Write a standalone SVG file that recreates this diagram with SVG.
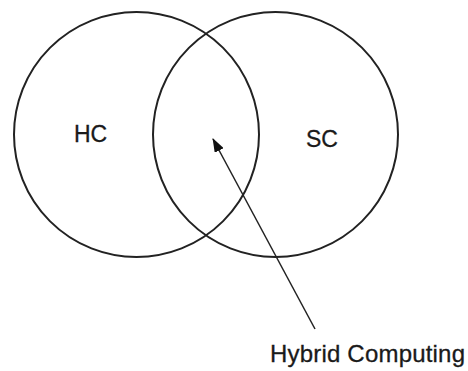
<svg xmlns="http://www.w3.org/2000/svg" width="468" height="371" viewBox="0 0 468 371">
<style>
.c{fill:none;stroke:#222;stroke-width:2}
.t{font-family:"Liberation Sans",Arial,sans-serif;fill:#1a1a1a;stroke:#1a1a1a;stroke-width:0.3}
</style>
<defs>
<marker id="ah" markerWidth="14" markerHeight="10" refX="13" refY="5" orient="auto" markerUnits="userSpaceOnUse">
<path d="M0,0 L14,5 L0,10 Z" fill="#111"/>
</marker>
</defs>
<rect width="468" height="371" fill="#fff"/>
<g id="HC">
<circle class="c" cx="136.5" cy="134.5" r="122.5"/>
<text class="t" x="74" y="141.5" font-size="23">HC</text>
</g>
<g id="SC">
<circle class="c" cx="275.5" cy="134.5" r="122.5"/>
<text class="t" x="306" y="146.5" font-size="23">SC</text>
</g>
<g id="hybrid">
<text class="t" x="270" y="362" font-size="24" textLength="195">Hybrid Computing</text>
</g>
<g id="connectors">
<line x1="315" y1="329" x2="213" y2="139" stroke="#222" stroke-width="1.5" marker-end="url(#ah)"/>
</g>
</svg>
